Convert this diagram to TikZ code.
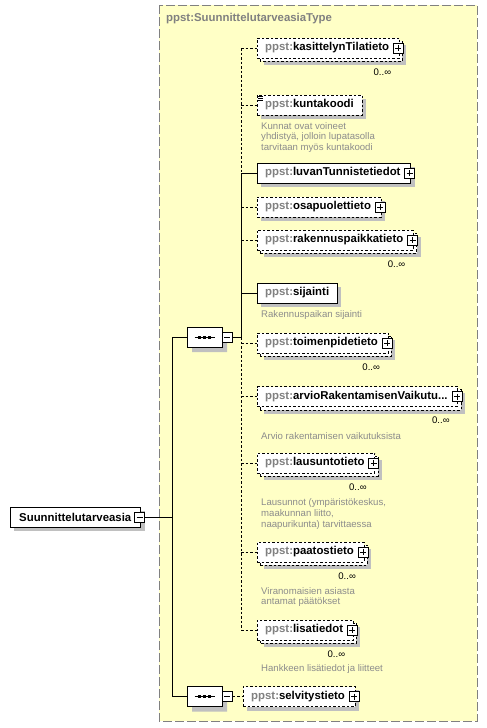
\documentclass[tikz,border=0pt]{standalone}
\usepackage{fontspec}
\setmainfont{Liberation Sans}
\usetikzlibrary{positioning,calc,shapes.misc}

\definecolor{schemabg}{HTML}{FFFFC6}
\definecolor{prefixgray}{HTML}{808080}
\definecolor{notegray}{HTML}{8C8C8C}
\definecolor{shadowgray}{HTML}{C0C0C0}

\pgfdeclarelayer{bg}
\pgfdeclarelayer{shade}
\pgfdeclarelayer{back}
\pgfsetlayers{bg,shade,back,main}

\newcommand{\labelfont}{\bfseries\fontsize{11.4}{13}\selectfont}
\newcommand{\notefont}{\fontsize{9.6}{10.7}\selectfont}
\newcommand{\ppst}[1]{{\color{prefixgray}ppst:}#1}
\newcommand{\pmgap}{\hspace*{2pt}}
% grey shadow behind a box, #2 = extra offset
\newcommand{\dropshade}[2]{%
  \begin{pgfonlayer}{shade}
    \fill[shadowgray] ($(#1.south west)+(#2+4,#2+4)$) rectangle ($(#1.north east)+(#2+4,#2+4)$);
  \end{pgfonlayer}}
% second box behind an element that may repeat
\newcommand{\stackbox}[1]{%
  \begin{pgfonlayer}{back}
    \draw[optional, fill=white] ($(#1.south west)+(3,3)$) rectangle ($(#1.north east)+(3,3)$);
  \end{pgfonlayer}%
  \dropshade{#1}{3}}

\tikzset{
  elem/.style={draw, fill=white, anchor=west, minimum height=20pt, inner xsep=8pt, inner ysep=0pt, font=\labelfont},
  optional/.style={dash pattern=on 2.5pt off 2pt},
  note/.style={anchor=north west, align=left, inner sep=0pt, text=notegray, font=\notefont},
  mult/.style={anchor=north east, inner sep=0pt, font=\notefont},
  pmbox/.style={draw, fill=white, minimum size=10pt, inner sep=0pt, line width=0.7pt},
  minusbox/.style={pmbox, path picture={\draw ([xshift=2pt]path picture bounding box.west) -- ([xshift=-2pt]path picture bounding box.east);}},
  plusbox/.style={pmbox, path picture={\draw ([xshift=2pt]path picture bounding box.west) -- ([xshift=-2pt]path picture bounding box.east)
      ([yshift=-2pt]path picture bounding box.north) -- ([yshift=2pt]path picture bounding box.south);}},
  seqbox/.style={chamfered rectangle, chamfered rectangle sep=6pt, draw, fill=white, minimum width=35pt, minimum height=20pt, inner sep=0pt, anchor=west}
}

\begin{document}
\begin{tikzpicture}[x=1pt, y=-1pt, line width=0.8pt]
    \useasboundingbox (0,0) rectangle (487,728);

    % complex type frame
    \begin{pgfonlayer}{bg}
        \draw[prefixgray, fill=schemabg, dash pattern=on 9pt off 3pt] (159,5) rectangle (477,721);
    \end{pgfonlayer}
    \node[anchor=west, inner sep=0pt, text=prefixgray, font=\labelfont] (title) at (166,19) {ppst:SuunnittelutarveasiaType};

    % root element
    \node[elem, inner xsep=9pt] (root) at (10,517) {Suunnittelutarveasia};
    \node[minusbox] (rootx) at ($(root.east)+(-1,0)$) {};
    \dropshade{root}{0}

    % sequences
    \node[seqbox] (seqA) at (187,337) {};
    \node[seqbox] (seqB) at (187,696.5) {};
    \node[minusbox] (seqAx) at ($(seqA.east)+(5,0)$) {};
    \node[minusbox] (seqBx) at ($(seqB.east)+(5,0)$) {};
    \foreach \s in {seqA,seqB} {
        \begin{pgfonlayer}{shade}
            \node[seqbox, anchor=center, draw=none, fill=shadowgray] at ($(\s.center)+(5,5)$) {};
        \end{pgfonlayer}
        \draw ($(\s.center)+(-10,0)$) -- ($(\s.center)+(10,0)$);
        \foreach \dx in {-5,0,5}
            \fill ($(\s.center)+(\dx-1.5,-1.5)$) rectangle ++(3,3);
    }

    % child elements
    \node[elem, optional] (kasit) at (257,48) {\ppst{kasittelynTilatieto}\pmgap};
    \node[elem, optional] (kunta) at (257,105) {\ppst{kuntakoodi}};
    \node[elem] (luvan) at (257,173) {\ppst{luvanTunnistetiedot}\pmgap};
    \node[elem, optional] (osap) at (257,207) {\ppst{osapuolettieto}\pmgap};
    \node[elem, optional] (rakenn) at (257,240) {\ppst{rakennuspaikkatieto}\pmgap};
    \node[elem] (sijainti) at (257,293) {\ppst{sijainti}};
    \node[elem, optional] (toimen) at (257,343) {\ppst{toimenpidetieto}\pmgap};
    \node[elem, optional] (arvio) at (257,396.5) {\ppst{arvioRakentamisenVaikutu...}\pmgap};
    \node[elem, optional] (lausu) at (257,463) {\ppst{lausuntotieto}\pmgap};
    \node[elem, optional] (paatos) at (257,552) {\ppst{paatostieto}\pmgap};
    \node[elem, optional] (lisa) at (257,630) {\ppst{lisatiedot}\pmgap};
    \node[elem, optional] (selv) at (243,696.5) {\ppst{selvitystieto}\pmgap};

    \foreach \n in {kasit,luvan,osap,rakenn,toimen,arvio,lausu,paatos,lisa,selv}
        \node[plusbox] (\n x) at ($(\n.east)+(-1,0)$) {};
    \foreach \n in {kunta,luvan,osap,sijainti,selv}
        \dropshade{\n}{0};
    \foreach \n in {kasit,rakenn,toimen,arvio,lausu,paatos,lisa}
        \stackbox{\n};

    % simple type mark
    \foreach \dy in {1.5,3.5,5.5}
        \draw[line width=0.6pt] ($(kunta.north west)+(1,\dy)$) -- ++(5,0);

    % occurrences
    \node[mult] (kasitn) at ($(kasit.south east)+(-8,10)$) {0..∞};
    \node[mult] (rakennn) at ($(rakenn.south east)+(-8,10)$) {0..∞};
    \node[mult] (toimenn) at ($(toimen.south east)+(-8,10)$) {0..∞};
    \node[mult] (arvion) at ($(arvio.south east)+(-8,10)$) {0..∞};
    \node[mult] (lausun) at ($(lausu.south east)+(-8,10)$) {0..∞};
    \node[mult] (paatosn) at ($(paatos.south east)+(-8,10)$) {0..∞};
    \node[mult] (lisan) at ($(lisa.south east)+(-8,10)$) {0..∞};

    % annotations
    \node[note] (kuntanote) at (261,122) {Kunnat ovat voineet\\yhdistyä, jolloin lupatasolla\\tarvitaan myös kuntakoodi};
    \node[note] (sijaintinote) at (261,310.5) {Rakennuspaikan sijainti};
    \node[note] (arvionote) at (261,432) {Arvio rakentamisen vaikutuksista};
    \node[note] (lausunote) at (261,498.5) {Lausunnot (ympäristökeskus,\\maakunnan liitto,\\naapurikunta) tarvittaessa};
    \node[note] (paatosnote) at (261,587) {Viranomaisien asiasta\\antamat päätökset};
    \node[note] (lisanote) at (261,664) {Hankkeen lisätiedot ja liitteet};

    % connectors
    \coordinate (trunk) at (172,0);
    \coordinate (spine) at (241,0);
    \draw (rootx.east) -- (rootx.east -| trunk);
    \draw (seqA.west -| trunk) -- (seqB.west -| trunk);
    \draw (seqA.west -| trunk) -- (seqA.west);
    \draw (seqB.west -| trunk) -- (seqB.west);
    \draw (seqAx.east) -- (seqAx.east -| spine);
    \draw[optional] (seqBx.east) -- (selv.west);

    \draw[optional] (kasit.west -| spine) -- (luvan.west -| spine);
    \draw (luvan.west -| spine) -- (seqAx.east -| spine);
    \draw[optional] (seqAx.east -| spine) -- (lisa.west -| spine);
    \foreach \n in {kasit,kunta,osap,rakenn,toimen,arvio,lausu,paatos,lisa}
        \draw[optional] (\n.west -| spine) -- (\n.west);
    \foreach \n in {luvan,sijainti}
        \draw (\n.west -| spine) -- (\n.west);
\end{tikzpicture}
\end{document}
